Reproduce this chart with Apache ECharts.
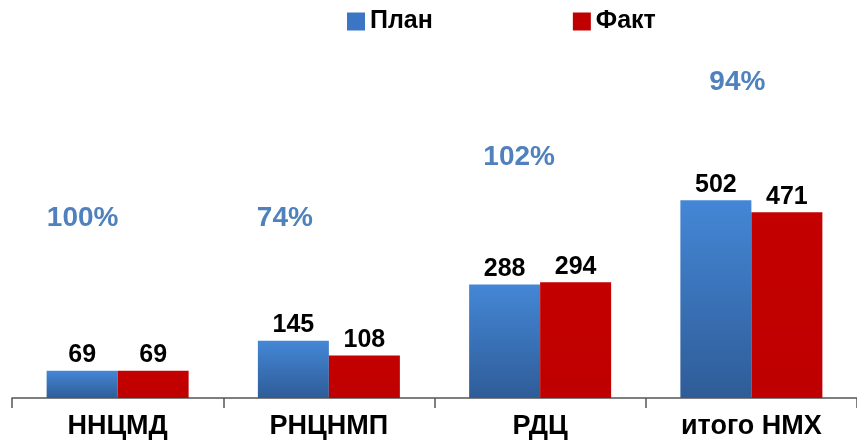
<!DOCTYPE html>
<html>
<head>
<meta charset="utf-8">
<script src="https://cdn.jsdelivr.net/npm/echarts@6/dist/echarts.min.js"></script>
<style>html,body{margin:0;padding:0;background:#fff}#c{width:857px;height:441px}</style>
</head>
<body>
<div id="c"></div>
<script>
var categories = ['ННЦМД', 'РНЦНМП', 'РДЦ', 'итого НМХ'];
var planValues = [69, 145, 288, 502];
var factValues = [69, 108, 294, 471];
var percentLabels = ['100%', '74%', '102%', '94%'];
// vertical anchor (in axis units) where each percent label sits
var percentAnchor = [457, 457, 612, 802];
var percentShiftX = [-35, -44, -21, -14];

var FONT = 'Liberation Sans, Arial, sans-serif';
var chart = echarts.init(document.getElementById('c'), null, {renderer: 'canvas'});

var blueGrad = new echarts.graphic.LinearGradient(0, 0, 0, 1, [
  {offset: 0, color: '#4487d6'},
  {offset: 1, color: '#2f5c98'}
]);
var redGrad = new echarts.graphic.LinearGradient(0, 0, 0, 1, [
  {offset: 0, color: '#c40000'},
  {offset: 1, color: '#bf0000'}
]);

var pctData = percentLabels.map(function (t, i) {
  return {
    value: [categories[i], percentAnchor[i]],
    label: {offset: [percentShiftX[i], 0], formatter: t}
  };
});

chart.setOption({
  animation: false,
  textStyle: {fontFamily: FONT},
  legend: {
    data: [
      {name: 'План', itemStyle: {color: '#3a76c3'}},
      {name: 'Факт', itemStyle: {color: '#c00000'}}
    ],
    left: 342, top: 4,
    itemWidth: 18, itemHeight: 18, itemGap: 140,
    icon: 'rect',
    textStyle: {fontSize: 25, fontWeight: 'bold', color: '#000', fontFamily: FONT}
  },
  grid: {left: 12, right: -3, top: 63, bottom: 43},
  xAxis: {
    type: 'category',
    data: categories,
    axisLine: {lineStyle: {color: '#555', width: 1.5}},
    axisTick: {show: true, length: 10, lineStyle: {color: '#555', width: 1.5}},
    axisLabel: {fontSize: 27, fontWeight: 'bold', color: '#000', margin: 15, fontFamily: FONT}
  },
  yAxis: {type: 'value', min: 0, max: 850, show: false, splitLine: {show: false}},
  series: [
    {
      name: 'План', type: 'bar', data: planValues, barWidth: 71, barGap: '0%',
      itemStyle: {color: blueGrad},
      label: {show: true, position: 'top', distance: 3, fontSize: 25, fontWeight: 'bold', color: '#000', fontFamily: FONT}
    },
    {
      name: 'Факт', type: 'bar', data: factValues, barWidth: 71,
      itemStyle: {color: redGrad},
      label: {show: true, position: 'top', distance: 3, fontSize: 25, fontWeight: 'bold', color: '#000', fontFamily: FONT}
    },
    {
      name: 'pct', type: 'scatter', data: pctData, symbolSize: 0, clip: false,
      itemStyle: {color: '#4f81bd', opacity: 1},
      label: {show: true, position: 'inside', fontSize: 28, fontWeight: 'bold', color: '#4f81bd', opacity: 1, fontFamily: FONT},
      silent: true
    }
  ]
});
</script>
</body>
</html>
